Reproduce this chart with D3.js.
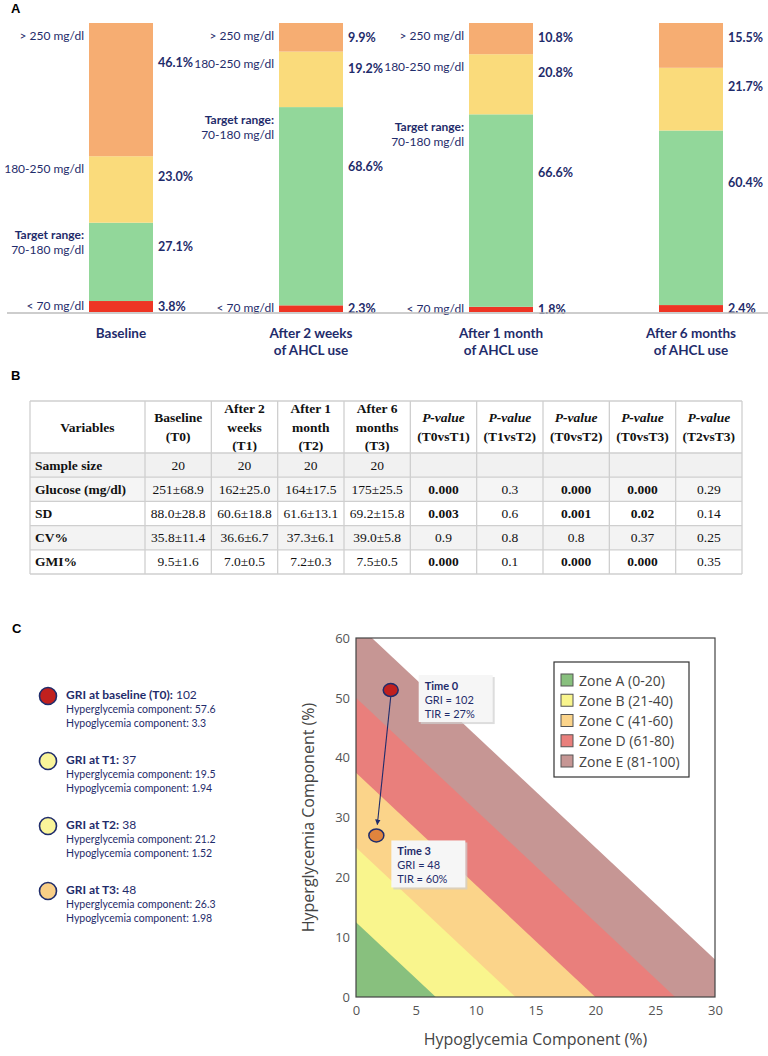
<!DOCTYPE html>
<html><head><meta charset="utf-8">
<script src="https://cdn.jsdelivr.net/npm/d3@7"></script>
<style>body{margin:0;background:#fff} svg{display:block}</style>
</head><body><svg id="c" width="768" height="1056"></svg>
<script>
// ---------- Panel A data ----------
const timepoints = ["Baseline", "After 2 weeks|of AHCL use", "After 1 month|of AHCL use", "After 6 months|of AHCL use"];
const rangeNames = ["< 70 mg/dl", "Target range:|70-180 mg/dl", "180-250 mg/dl", "> 250 mg/dl"];
const pctBelow70 = [3.8, 2.3, 1.8, 2.4];
const pctTarget = [27.1, 68.6, 66.6, 60.4];
const pct180to250 = [23.0, 19.2, 20.8, 21.7];
const pctAbove250 = [46.1, 9.9, 10.8, 15.5];
const showRangeNames = [true, true, true, false];

// ---------- Panel B data ----------
const tableHeader = [["Variables"], ["Baseline", "(T0)"], ["After 2", "weeks", "(T1)"], ["After 1", "month", "(T2)"], ["After 6", "months", "(T3)"],
  ["P-value", "(T0vsT1)"], ["P-value", "(T1vsT2)"], ["P-value", "(T0vsT2)"], ["P-value", "(T0vsT3)"], ["P-value", "(T2vsT3)"]];
const rowNames = ["Sample size", "Glucose (mg/dl)", "SD", "CV%", "GMI%"];
const colT0 = ["20", "251±68.9", "88.0±28.8", "35.8±11.4", "9.5±1.6"];
const colT1 = ["20", "162±25.0", "60.6±18.8", "36.6±6.7", "7.0±0.5"];
const colT2 = ["20", "164±17.5", "61.6±13.1", "37.3±6.1", "7.2±0.3"];
const colT3 = ["20", "175±25.5", "69.2±15.8", "39.0±5.8", "7.5±0.5"];
const pT0vsT1 = ["", "0.000", "0.003", "0.9", "0.000"];
const pT1vsT2 = ["", "0.3", "0.6", "0.8", "0.1"];
const pT0vsT2 = ["", "0.000", "0.001", "0.8", "0.000"];
const pT0vsT3 = ["", "0.000", "0.02", "0.37", "0.000"];
const pT2vsT3 = ["", "0.29", "0.14", "0.25", "0.35"];

// ---------- Panel C data ----------
const griLabels = ["GRI at baseline (T0):", "GRI at T1:", "GRI at T2:", "GRI at T3:"];
const griValues = [102, 37, 38, 48];
const hyperComp = [57.6, 19.5, 21.2, 26.3];
const hypoComp = [3.3, 1.94, 1.52, 1.98];
const zoneNames = ["Zone A (0-20)", "Zone B (21-40)", "Zone C (41-60)", "Zone D (61-80)", "Zone E (81-100)"];
const zoneUpper = [20, 40, 60, 80, 100];
const plotTimes = ["Time 0", "Time 3"];
const plotHypo = [2.9, 1.7];
const plotHyper = [51.3, 27.0];
const plotGRI = [102, 48];
const plotTIR = [27, 60];
const xTicksC = [0, 5, 10, 15, 20, 25, 30];
const yTicksC = [0, 10, 20, 30, 40, 50, 60];

// ---------- styles ----------
const NAVY = "#1F2C6B";
const FA = "Lato, 'Open Sans', sans-serif";
const FSERIF = "'Liberation Serif', 'Times New Roman', serif";
const FOS = "'Open Sans', sans-serif";
const segColors = ["#EE3524", "#92D79A", "#FADB7B", "#F6AD72"];
const rowShade = ["#f1f1f1", "#f5f5f5", "#ffffff", "#f3f3f3", "#ffffff"];
const zoneColors = ["#88C07E", "#F9F58D", "#FBD48A", "#E97F7C", "#C69694"];
const griDotColors = ["#C0201E", "#FAF59A", "#FAF59A", "#F9CF87"];
const plotDotColors = ["#C0201E", "#E0843D"];

const svg = d3.select("#c");

function panelLetter(t, x, y) {
  svg.append("text").attr("x", x).attr("y", y).text(t)
    .style("font-family", "'Liberation Sans', Arial, sans-serif").style("font-weight", "bold").style("font-size", "13px").attr("fill", "#000");
}
panelLetter("A", 11, 13);
panelLetter("B", 11, 380);
panelLetter("C", 12, 633);

// ================= Panel A =================
(function () {
  const series = [pctBelow70, pctTarget, pct180to250, pctAbove250];
  const keys = series.map((s, k) => "k" + k);
  const rows = timepoints.map((t, i) => { const o = { t, i }; series.forEach((s, k) => o["k" + k] = s[i]); return o; });
  const stacked = d3.stack().keys(keys)(rows);
  const x = d3.scalePoint().domain(timepoints).range([121, 691]);
  const y = d3.scaleLinear().domain([0, 100]).range([312, 23]);
  const bw = 64;
  const g = svg.append("g");

  stacked.forEach((layer, k) => {
    g.selectAll(null).data(layer).enter().append("rect")
      .attr("x", d => x(d.data.t) - bw / 2).attr("width", bw)
      .attr("y", d => y(d[1])).attr("height", d => y(d[0]) - y(d[1]))
      .attr("fill", segColors[k]);
    // value labels
    g.selectAll(null).data(layer).enter().append("text")
      .attr("x", d => x(d.data.t) + bw / 2 + 5)
      .attr("y", d => { const top = y(d[1]), h = y(d[0]) - top; return top + Math.max(0.3 * h, Math.min(h / 2, 14)); })
      .attr("dominant-baseline", "central")
      .text(d => series[k][d.data.i].toFixed(1) + "%")
      .style("font-family", FA).style("font-weight", "bold").style("font-size", "12.5px").attr("fill", NAVY);
    // range names
    layer.forEach(d => {
      if (!showRangeNames[d.data.i]) return;
      const top = y(d[1]), h = y(d[0]) - top;
      const lines = rangeNames[k].split("|");
      lines.forEach((ln, j) => {
        const yy = k === 0 ? top + h / 2 - 1 : top + 12 + j * 15;
        g.append("text").attr("x", x(d.data.t) - bw / 2 - 5).attr("y", yy)
          .attr("text-anchor", "end").attr("dominant-baseline", "central")
          .text(ln).style("font-family", FA).style("font-size", "12px")
          .style("font-weight", ln.startsWith("Target") ? "bold" : "normal").attr("fill", NAVY);
      });
    });
  });

  g.append("line").attr("x1", 7).attr("x2", 768).attr("y1", y(0) + 1).attr("y2", y(0) + 1)
    .attr("stroke", "#bdbdbd").attr("stroke-width", 1.5);

  timepoints.forEach(t => {
    t.split("|").forEach((ln, j) => {
      g.append("text").attr("x", x(t)).attr("y", y(0) + 26 + j * 17).attr("text-anchor", "middle")
        .text(ln).style("font-family", FA).style("font-weight", "bold").style("font-size", "13.5px").attr("fill", NAVY);
    });
  });
})();

// ================= Panel B =================
(function () {
  const cols = [rowNames, colT0, colT1, colT2, colT3, pT0vsT1, pT1vsT2, pT0vsT2, pT0vsT3, pT2vsT3];
  const left = 30, right = 742, firstW = 115;
  const xs = d3.scaleLinear().domain([1, cols.length]).range([left + firstW, right]);
  const colX0 = i => i === 0 ? left : xs(i);
  const colX1 = i => i === 0 ? left + firstW : xs(i + 1);
  const top = 401, headH = 52;
  const yr = d3.scaleLinear().domain([0, rowNames.length]).range([top + headH, 574]);
  const g = svg.append("g");
  const grid = "#cfcfcf";

  rowNames.forEach((r, i) => {
    g.append("rect").attr("x", left).attr("y", yr(i)).attr("width", right - left).attr("height", yr(i + 1) - yr(i)).attr("fill", rowShade[i]);
  });
  tableHeader.forEach((lines, c) => {
    const cx = (colX0(c) + colX1(c)) / 2;
    const cy = top + headH / 2;
    const lh = 18.5;
    lines.forEach((ln, j) => {
      g.append("text").attr("x", cx).attr("y", cy + (j - (lines.length - 1) / 2) * lh)
        .attr("text-anchor", "middle").attr("dominant-baseline", "central").text(ln)
        .style("font-family", FSERIF).style("font-size", "13.5px").style("font-weight", "bold")
        .style("font-style", ln.startsWith("P-value") ? "italic" : "normal").attr("fill", "#111");
    });
  });
  cols.forEach((col, c) => {
    col.forEach((v, i) => {
      const cy = (yr(i) + yr(i + 1)) / 2;
      const isP = c >= 5;
      const bold = c === 0 || (isP && v !== "" && parseFloat(v) < 0.05);
      g.append("text").attr("x", c === 0 ? left + 5 : (colX0(c) + colX1(c)) / 2).attr("y", cy)
        .attr("text-anchor", c === 0 ? "start" : "middle").attr("dominant-baseline", "central").text(v)
        .style("font-family", FSERIF).style("font-size", "13.5px").style("font-weight", bold ? "bold" : "normal").attr("fill", "#111");
    });
  });
  const hy = [top, top + headH].concat(rowNames.map((r, i) => yr(i + 1)));
  hy.forEach(yy => g.append("line").attr("x1", left).attr("x2", right).attr("y1", yy).attr("y2", yy).attr("stroke", grid).attr("stroke-width", 1.3));
  const vx = [left].concat(cols.map((c, i) => colX1(i)));
  vx.forEach(xx => g.append("line").attr("x1", xx).attr("x2", xx).attr("y1", top).attr("y2", yr(rowNames.length)).attr("stroke", grid).attr("stroke-width", 1.3));
})();

// ================= Panel C left legend =================
(function () {
  const yy = d3.scalePoint().domain(griLabels).range([696, 891]);
  const g = svg.append("g");
  griLabels.forEach((lab, i) => {
    const cy = yy(lab);
    g.append("circle").attr("cx", 48).attr("cy", cy).attr("r", 8.5).attr("fill", griDotColors[i]).attr("stroke", NAVY).attr("stroke-width", 1.6);
    const t = g.append("text").attr("x", 66).attr("y", cy - 2).attr("dominant-baseline", "central")
      .style("font-family", FA).style("font-size", "12px").attr("fill", NAVY);
    t.append("tspan").text(lab).style("font-weight", "bold");
    t.append("tspan").text(" " + griValues[i]);
    g.append("text").attr("x", 66).attr("y", cy + 13).attr("dominant-baseline", "central")
      .text("Hyperglycemia component: " + hyperComp[i]).style("font-family", FA).style("font-size", "10.5px").attr("fill", NAVY);
    g.append("text").attr("x", 66).attr("y", cy + 27).attr("dominant-baseline", "central")
      .text("Hypoglycemia component: " + hypoComp[i]).style("font-family", FA).style("font-size", "10.5px").attr("fill", NAVY);
  });
})();

// ================= Panel C chart =================
(function () {
  const L = 356, R = 715, T = 638, B = 997;
  const x = d3.scaleLinear().domain([0, 30]).range([L, R]);
  const y = d3.scaleLinear().domain([0, 60]).range([B, T]);
  const g = svg.append("g");
  const defs = svg.append("defs");
  defs.append("clipPath").attr("id", "plotclip").append("rect").attr("x", L).attr("y", T).attr("width", R - L).attr("height", B - T);
  defs.append("marker").attr("id", "arr").attr("viewBox", "0 0 10 10").attr("refX", 9).attr("refY", 5)
    .attr("markerWidth", 5).attr("markerHeight", 5).attr("orient", "auto")
    .append("path").attr("d", "M0,0 L10,5 L0,10 z").attr("fill", NAVY);

  const zg = g.append("g").attr("clip-path", "url(#plotclip)");
  zoneUpper.map((u, i) => i).reverse().forEach(i => {
    const u = zoneUpper[i];
    const pts = [[0, 0], [u / 3, 0], [0, u / 1.6]];
    zg.append("path").attr("d", d3.line().x(p => x(p[0])).y(p => y(p[1]))(pts) + "Z").attr("fill", zoneColors[i]);
  });

  const ax = g.append("g").attr("transform", `translate(0,${B})`).call(d3.axisBottom(x).tickValues(xTicksC).tickSize(0).tickPadding(9));
  const ay = g.append("g").attr("transform", `translate(${L},0)`).call(d3.axisLeft(y).tickValues(yTicksC).tickSize(0).tickPadding(6));
  [ax, ay].forEach(a => {
    a.select(".domain").remove();
    a.selectAll("text").style("font-family", FOS).style("font-size", "13px").attr("fill", "#555");
  });
  g.append("rect").attr("x", L).attr("y", T).attr("width", R - L).attr("height", B - T).attr("fill", "none").attr("stroke", "#444").attr("stroke-width", 1.2);

  g.append("text").attr("x", (L + R) / 2).attr("y", 1045).attr("text-anchor", "middle").text("Hypoglycemia Component (%)")
    .style("font-family", FOS).style("font-size", "16px").attr("fill", "#444");
  g.append("text").attr("transform", `translate(314,${(T + B) / 2}) rotate(-90)`).attr("text-anchor", "middle").text("Hyperglycemia Component (%)")
    .style("font-family", FOS).style("font-size", "16px").attr("fill", "#444");

  const x0 = x(plotHypo[0]), y0 = y(plotHyper[0]), x1 = x(plotHypo[1]), y1 = y(plotHyper[1]);
  g.append("line").attr("x1", x0).attr("y1", y0 + 7).attr("x2", x1 + 1).attr("y2", y1 - 11)
    .attr("stroke", NAVY).attr("stroke-width", 1.1).attr("marker-end", "url(#arr)");

  plotTimes.forEach((t, i) => {
    g.append("ellipse").attr("cx", x(plotHypo[i])).attr("cy", y(plotHyper[i])).attr("rx", 7.5).attr("ry", 6.5)
      .attr("fill", plotDotColors[i]).attr("stroke", NAVY).attr("stroke-width", 1.5);
  });

  const boxOffsets = [[28, -15], [15, 5]];
  plotTimes.forEach((t, i) => {
    const bx = x(plotHypo[i]) + boxOffsets[i][0], by = y(plotHyper[i]) + boxOffsets[i][1];
    g.append("rect").attr("x", bx + 2).attr("y", by + 2).attr("width", 74).attr("height", 47).attr("fill", "#cfcfcf").attr("opacity", 0.7);
    g.append("rect").attr("x", bx).attr("y", by).attr("width", 74).attr("height", 47).attr("fill", "#f6f6f6");
    const lines = [t, "GRI = " + plotGRI[i], "TIR = " + plotTIR[i] + "%"];
    lines.forEach((ln, j) => {
      g.append("text").attr("x", bx + 6).attr("y", by + 10 + j * 14).attr("dominant-baseline", "central").text(ln)
        .style("font-family", FA).style("font-size", "11px").style("font-weight", j === 0 ? "bold" : "normal").attr("fill", NAVY);
    });
  });

  const lx = 554, ly = 662;
  g.append("rect").attr("x", lx).attr("y", ly).attr("width", 135).attr("height", 115).attr("fill", "#fff").attr("stroke", "#333").attr("stroke-width", 1.2);
  const ly0 = d3.scalePoint().domain(zoneNames).range([ly + 18, ly + 99]);
  zoneNames.forEach((z, i) => {
    g.append("rect").attr("x", lx + 7).attr("y", ly0(z) - 6).attr("width", 12).attr("height", 12).attr("fill", zoneColors[i]).attr("stroke", "#555").attr("stroke-width", 1);
    g.append("text").attr("x", lx + 25).attr("y", ly0(z)).attr("dominant-baseline", "central").text(z)
      .style("font-family", FOS).style("font-size", "14px").attr("fill", "#444");
  });
})();
</script></body></html>
